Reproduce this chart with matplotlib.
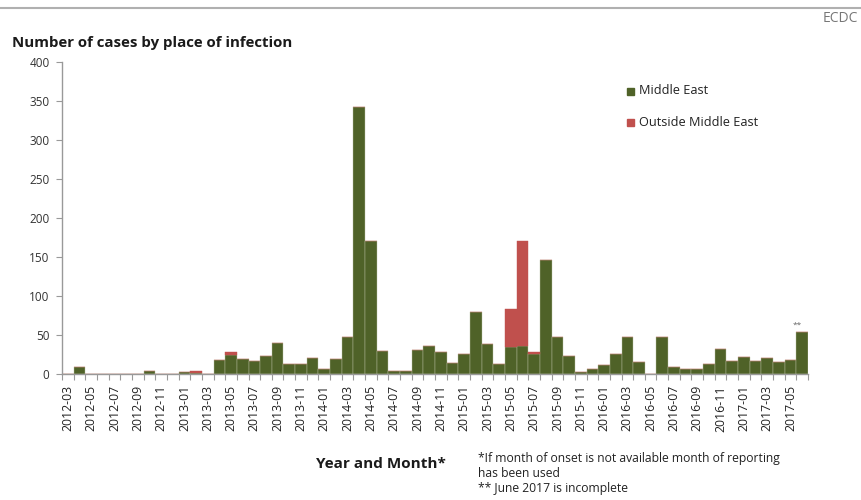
import matplotlib
matplotlib.use("Agg")
import matplotlib.pyplot as plt
import numpy as np

plt.rcParams['font.family'] = ['Open Sans', 'DejaVu Sans']

months = ["2012-03","2012-04","2012-05","2012-06","2012-07","2012-08","2012-09","2012-10","2012-11","2012-12",
          "2013-01","2013-02","2013-03","2013-04","2013-05","2013-06","2013-07","2013-08","2013-09","2013-10",
          "2013-11","2013-12","2014-01","2014-02","2014-03","2014-04","2014-05","2014-06","2014-07","2014-08",
          "2014-09","2014-10","2014-11","2014-12","2015-01","2015-02","2015-03","2015-04","2015-05","2015-06",
          "2015-07","2015-08","2015-09","2015-10","2015-11","2015-12","2016-01","2016-02","2016-03","2016-04",
          "2016-05","2016-06","2016-07","2016-08","2016-09","2016-10","2016-11","2016-12","2017-01","2017-02",
          "2017-03","2017-04","2017-05","2017-06"]

middle_east = [0, 9, 0, 0, 0, 0, 0, 4, 0, 0,
               2, 1, 0, 18, 25, 19, 17, 23, 40, 13,
               13, 21, 7, 19, 48, 342, 170, 30, 4, 4,
               31, 36, 28, 14, 26, 79, 39, 13, 34, 36,
               26, 146, 48, 23, 2, 6, 11, 26, 47, 15,
               0, 47, 9, 7, 7, 13, 32, 17, 22, 17,
               20, 16, 18, 54]

outside_me = [0, 0, 0, 0, 0, 0, 0, 0, 0, 0,
              0, 3, 0, 0, 3, 0, 0, 0, 0, 0,
              0, 0, 0, 0, 0, 0, 0, 0, 0, 0,
              0, 0, 0, 0, 0, 0, 0, 0, 49, 135,
              2, 0, 0, 0, 0, 0, 0, 0, 0, 0,
              0, 0, 0, 0, 0, 0, 0, 0, 0, 0,
              0, 0, 0, 0]

series_names = ["Middle East", "Outside Middle East"]
colors = ["#4f6228", "#c0504d"]
yticks = [0, 50, 100, 150, 200, 250, 300, 350, 400]

fig = plt.figure(figsize=(8.61, 5.0), dpi=100)
ax = fig.add_axes([62/861, 1-374/500, (808-62)/861, (374-62)/500])

x = np.arange(len(months))
me = np.array(middle_east)
out = np.array(outside_me)
ax.bar(x, me, width=1.0, color=colors[0], edgecolor='#b9c2a5', linewidth=0.3, label=series_names[0])
ax.bar(x, out, width=1.0, bottom=me, color=colors[1], edgecolor=colors[1], linewidth=0.3, label=series_names[1])

ax.set_xlim(-0.5, len(months)-0.5)
ax.set_ylim(0, 400)
ax.set_yticks(yticks)
ax.set_yticklabels([str(v) for v in yticks], fontsize=8.5, color='#333333')
ax.set_xticks(x[::2])
ax.set_xticklabels(months[::2], rotation=90, fontsize=8.8, color='#222222')
ax.set_xticks(np.arange(len(months)+1)-0.5, minor=True)
ax.tick_params(axis='x', which='major', length=0, pad=8)
ax.tick_params(axis='x', which='minor', length=4, color='#999999', width=0.8)
ax.tick_params(axis='y', length=4, color='#999999', width=0.8, pad=5)
for s in ['top', 'right']:
    ax.spines[s].set_visible(False)
for s in ['left', 'bottom']:
    ax.spines[s].set_color('#999999')
    ax.spines[s].set_linewidth(1.0)

# "**" marker above incomplete month
ax.text(x[-1]-0.4, me[-1]+out[-1]+4, "**", fontsize=6, color='#666666', ha='center', va='bottom')

# legend
fig.patches.append(plt.Rectangle((627/861, 1-95/500), 7/861, 7/500, transform=fig.transFigure, color=colors[0]))
fig.text(639/861, 1-91/500, series_names[0], fontsize=9.2, va='center', ha='left', color='#222222')
fig.patches.append(plt.Rectangle((627/861, 1-126/500), 7/861, 7/500, transform=fig.transFigure, color=colors[1]))
fig.text(639/861, 1-122/500, series_names[1], fontsize=9.2, va='center', ha='left', color='#222222')

# top line and texts
fig.add_artist(plt.Line2D([0, 1], [1-8/500, 1-8/500], transform=fig.transFigure, color='#b0b0b0', linewidth=1.5))
fig.text(858/861, 1-18/500, "ECDC", fontsize=10, ha='right', va='center', color='#777777')
fig.text(12/861, 1-43/500, "Number of cases by place of infection", fontsize=10.8, fontweight='bold',
         ha='left', va='center', color='#1a1a1a')
fig.text(381/861, 1-464/500, "Year and Month*", fontsize=11, fontweight='bold', ha='center', va='center',
         color='#1a1a1a')
fig.text(478/861, 1-452/500, "*If month of onset is not available month of reporting\nhas been used\n** June 2017 is incomplete",
         fontsize=8.7, ha='left', va='top', color='#222222', linespacing=1.2)

fig.savefig("out.png", dpi=100)
